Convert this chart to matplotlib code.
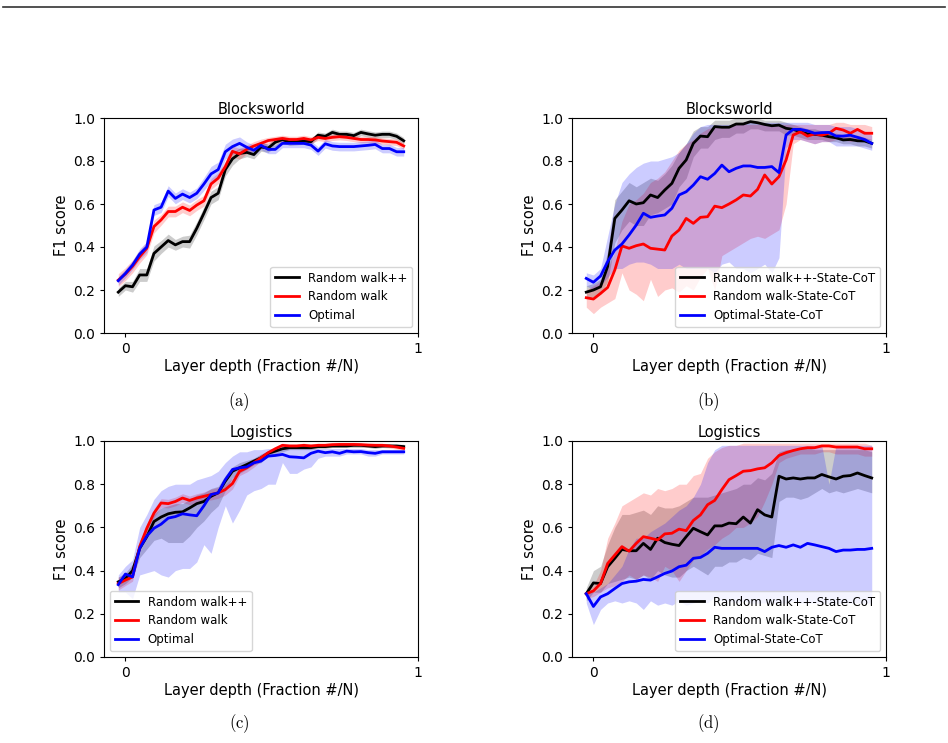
import numpy as np
import matplotlib
matplotlib.use("Agg")
import matplotlib.pyplot as plt
from matplotlib.lines import Line2D

plt.rcParams["mathtext.fontset"] = "cm"

# x positions: layer index, 41 layers
layers = np.arange(41)
xtick_pos = [1, 42]
xtick_labels = ["0", "1"]

# ---------------- (a) Blocksworld ----------------
a_rwpp = [0.19, 0.22, 0.215, 0.27, 0.27, 0.37, 0.40, 0.43, 0.41, 0.425, 0.425, 0.487, 0.557, 0.63, 0.65, 0.76,
          0.81, 0.835, 0.84, 0.83, 0.865, 0.86, 0.887, 0.90, 0.887, 0.89, 0.893, 0.89, 0.92, 0.915, 0.933,
          0.924, 0.924, 0.918, 0.933, 0.926, 0.92, 0.924, 0.924, 0.915, 0.894]
a_rwpp_err = [0.02, 0.02, 0.025, 0.03, 0.03, 0.035, 0.03, 0.03, 0.025, 0.025, 0.03, 0.03, 0.03, 0.03, 0.03, 0.03,
              0.03, 0.025, 0.02, 0.02, 0.02, 0.02, 0.02, 0.015, 0.015, 0.015, 0.015, 0.015, 0.015, 0.015, 0.015,
              0.015, 0.015, 0.015, 0.015, 0.015, 0.015, 0.015, 0.015, 0.015, 0.015]
a_rw = [0.246, 0.274, 0.31, 0.355, 0.394, 0.495, 0.526, 0.565, 0.565, 0.585, 0.57, 0.595, 0.615, 0.693, 0.72,
        0.774, 0.845, 0.833, 0.854, 0.87, 0.882, 0.895, 0.90, 0.905, 0.90, 0.90, 0.905, 0.898, 0.91, 0.905, 0.91,
        0.913, 0.91, 0.905, 0.90, 0.90, 0.898, 0.893, 0.89, 0.887, 0.87]
a_rw_err = [0.03, 0.03, 0.03, 0.03, 0.03, 0.03, 0.025, 0.025, 0.025, 0.025, 0.025, 0.025, 0.025, 0.025, 0.025,
            0.025, 0.025, 0.025, 0.02, 0.02, 0.02, 0.015, 0.015, 0.015, 0.015, 0.015, 0.015, 0.015, 0.015, 0.015,
            0.015, 0.015, 0.015, 0.015, 0.015, 0.015, 0.015, 0.015, 0.015, 0.015, 0.015]
a_opt = [0.243, 0.277, 0.316, 0.367, 0.40, 0.572, 0.585, 0.66, 0.626, 0.646, 0.63, 0.65, 0.693, 0.74, 0.76, 0.843,
         0.867, 0.882, 0.864, 0.85, 0.873, 0.854, 0.854, 0.882, 0.882, 0.882, 0.882, 0.874, 0.846, 0.88, 0.87,
         0.867, 0.867, 0.867, 0.87, 0.873, 0.877, 0.858, 0.858, 0.843, 0.843]
a_opt_err = [0.02, 0.02, 0.02, 0.025, 0.025, 0.025, 0.025, 0.025, 0.025, 0.025, 0.025, 0.025, 0.03, 0.035, 0.035,
             0.035, 0.035, 0.03, 0.025, 0.025, 0.02, 0.02, 0.02, 0.02, 0.02, 0.02, 0.02, 0.02, 0.02, 0.02, 0.02,
             0.02, 0.02, 0.02, 0.02, 0.02, 0.02, 0.02, 0.02, 0.02, 0.02]

# ---------------- (b) Blocksworld, State-CoT ----------------
b_rwpp = [0.19, 0.20, 0.215, 0.31, 0.533, 0.572, 0.615, 0.60, 0.606, 0.642, 0.63, 0.665, 0.696, 0.766, 0.805,
          0.882, 0.916, 0.913, 0.96, 0.957, 0.957, 0.972, 0.972, 0.983, 0.978, 0.97, 0.964, 0.967, 0.952, 0.947,
          0.936, 0.926, 0.924, 0.92, 0.913, 0.908, 0.898, 0.90, 0.894, 0.893, 0.882]
b_rwpp_lo = [0.16, 0.17, 0.18, 0.24, 0.42, 0.48, 0.52, 0.50, 0.50, 0.55, 0.56, 0.58, 0.60, 0.68, 0.72, 0.82, 0.86,
             0.86, 0.90, 0.91, 0.91, 0.93, 0.93, 0.95, 0.95, 0.94, 0.94, 0.94, 0.92, 0.92, 0.91, 0.90, 0.90, 0.90,
             0.89, 0.89, 0.88, 0.88, 0.87, 0.87, 0.86]
b_rwpp_hi = [0.22, 0.23, 0.25, 0.38, 0.62, 0.66, 0.70, 0.68, 0.70, 0.72, 0.71, 0.74, 0.78, 0.84, 0.88, 0.94, 0.96,
             0.96, 0.99, 0.99, 0.99, 1.0, 1.0, 1.0, 1.0, 0.99, 0.99, 0.99, 0.98, 0.97, 0.96, 0.95, 0.95, 0.94,
             0.93, 0.93, 0.92, 0.92, 0.92, 0.91, 0.90]
b_rw = [0.164, 0.158, 0.184, 0.212, 0.293, 0.405, 0.394, 0.406, 0.414, 0.394, 0.39, 0.386, 0.451, 0.479, 0.533,
        0.51, 0.538, 0.541, 0.59, 0.583, 0.60, 0.619, 0.642, 0.637, 0.668, 0.735, 0.693, 0.727, 0.805, 0.921,
        0.936, 0.916, 0.926, 0.92, 0.929, 0.952, 0.944, 0.929, 0.947, 0.929, 0.929]
b_rw_lo = [0.12, 0.09, 0.12, 0.14, 0.16, 0.28, 0.20, 0.18, 0.15, 0.25, 0.17, 0.20, 0.21, 0.19, 0.22, 0.20, 0.26,
           0.30, 0.20, 0.36, 0.38, 0.40, 0.42, 0.44, 0.45, 0.44, 0.46, 0.48, 0.60, 0.88, 0.90, 0.89, 0.88, 0.89,
           0.89, 0.90, 0.90, 0.89, 0.90, 0.90, 0.90]
b_rw_hi = [0.20, 0.22, 0.24, 0.30, 0.38, 0.52, 0.60, 0.62, 0.65, 0.70, 0.72, 0.75, 0.80, 0.85, 0.88, 0.90, 0.93,
           0.95, 0.96, 0.96, 0.96, 0.97, 0.97, 0.97, 0.97, 0.97, 0.97, 0.97, 0.97, 0.97, 0.97, 0.97, 0.97, 0.97,
           0.97, 0.98, 0.98, 0.97, 0.97, 0.97, 0.96]
b_opt = [0.254, 0.236, 0.265, 0.332, 0.386, 0.414, 0.456, 0.502, 0.557, 0.538, 0.544, 0.549, 0.58, 0.642, 0.657,
         0.688, 0.727, 0.715, 0.742, 0.781, 0.75, 0.766, 0.777, 0.777, 0.77, 0.77, 0.774, 0.746, 0.921, 0.947,
         0.947, 0.94, 0.929, 0.932, 0.933, 0.916, 0.916, 0.92, 0.91, 0.90, 0.882]
b_opt_lo = [0.22, 0.20, 0.22, 0.26, 0.30, 0.30, 0.32, 0.33, 0.33, 0.32, 0.30, 0.30, 0.30, 0.32, 0.30, 0.30, 0.30,
            0.30, 0.28, 0.32, 0.33, 0.30, 0.30, 0.28, 0.30, 0.32, 0.28, 0.35, 0.86, 0.90, 0.90, 0.89, 0.88, 0.89,
            0.89, 0.87, 0.87, 0.87, 0.87, 0.86, 0.85]
b_opt_hi = [0.28, 0.27, 0.30, 0.45, 0.60, 0.70, 0.74, 0.77, 0.79, 0.80, 0.80, 0.81, 0.82, 0.84, 0.88, 0.93, 0.96,
            0.97, 0.97, 0.97, 0.97, 0.97, 0.98, 0.98, 0.98, 0.98, 0.98, 0.98, 0.98, 0.98, 0.98, 0.98, 0.97, 0.97,
            0.97, 0.96, 0.96, 0.96, 0.95, 0.94, 0.92]

# ---------------- (c) Logistics ----------------
c_rwpp = [0.348, 0.363, 0.40, 0.503, 0.557, 0.627, 0.648, 0.663, 0.67, 0.672, 0.69, 0.71, 0.72, 0.744, 0.76,
          0.814, 0.86, 0.876, 0.891, 0.907, 0.922, 0.943, 0.953, 0.964, 0.969, 0.969, 0.969, 0.969, 0.974, 0.974,
          0.977, 0.977, 0.977, 0.98, 0.98, 0.977, 0.974, 0.977, 0.977, 0.977, 0.974]
c_rwpp_lo = [0.32, 0.34, 0.37, 0.46, 0.50, 0.54, 0.55, 0.53, 0.53, 0.53, 0.56, 0.60, 0.63, 0.67, 0.70, 0.77, 0.83,
             0.85, 0.87, 0.89, 0.90, 0.93, 0.94, 0.95, 0.96, 0.96, 0.96, 0.96, 0.965, 0.965, 0.97, 0.97, 0.97, 0.97,
             0.97, 0.97, 0.965, 0.97, 0.97, 0.97, 0.965]
c_rwpp_hi = [0.37, 0.39, 0.43, 0.54, 0.60, 0.66, 0.69, 0.70, 0.71, 0.71, 0.73, 0.75, 0.76, 0.78, 0.79, 0.84, 0.88,
             0.90, 0.91, 0.92, 0.94, 0.955, 0.965, 0.975, 0.98, 0.98, 0.98, 0.98, 0.985, 0.985, 0.985, 0.985, 0.985,
             0.99, 0.99, 0.985, 0.985, 0.985, 0.985, 0.985, 0.985]
c_rw = [0.34, 0.356, 0.371, 0.511, 0.596, 0.666, 0.713, 0.71, 0.72, 0.736, 0.725, 0.736, 0.744, 0.752, 0.76, 0.775,
        0.803, 0.86, 0.876, 0.899, 0.922, 0.946, 0.964, 0.98, 0.977, 0.977, 0.98, 0.977, 0.98, 0.98, 0.983, 0.984,
        0.984, 0.984, 0.983, 0.981, 0.98, 0.98, 0.977, 0.972, 0.966]
c_rw_err = [0.03, 0.025, 0.02, 0.02, 0.02, 0.02, 0.02, 0.02, 0.02, 0.02, 0.02, 0.02, 0.02, 0.025, 0.025, 0.025,
            0.025, 0.02, 0.02, 0.02, 0.015, 0.01, 0.01, 0.01, 0.01, 0.01, 0.01, 0.01, 0.01, 0.01, 0.01, 0.01, 0.01,
            0.01, 0.01, 0.01, 0.01, 0.01, 0.01, 0.01, 0.01]
c_opt = [0.335, 0.384, 0.371, 0.503, 0.56, 0.596, 0.615, 0.643, 0.65, 0.663, 0.658, 0.654, 0.70, 0.752, 0.76,
         0.821, 0.868, 0.876, 0.88, 0.899, 0.907, 0.93, 0.933, 0.938, 0.927, 0.925, 0.922, 0.943, 0.953, 0.946,
         0.95, 0.943, 0.953, 0.95, 0.951, 0.946, 0.943, 0.95, 0.95, 0.95, 0.95]
c_opt_lo = [0.30, 0.30, 0.27, 0.38, 0.39, 0.40, 0.38, 0.37, 0.40, 0.41, 0.41, 0.44, 0.52, 0.48, 0.60, 0.70, 0.62,
            0.68, 0.75, 0.77, 0.78, 0.80, 0.80, 0.90, 0.85, 0.85, 0.87, 0.88, 0.92, 0.93, 0.93, 0.93, 0.94, 0.94,
            0.94, 0.93, 0.93, 0.94, 0.94, 0.94, 0.94]
c_opt_hi = [0.38, 0.42, 0.45, 0.60, 0.66, 0.73, 0.77, 0.79, 0.80, 0.80, 0.80, 0.82, 0.83, 0.84, 0.86, 0.90, 0.93,
            0.95, 0.95, 0.96, 0.96, 0.965, 0.965, 0.965, 0.965, 0.965, 0.965, 0.965, 0.965, 0.965, 0.965, 0.965,
            0.965, 0.965, 0.965, 0.96, 0.96, 0.96, 0.96, 0.96, 0.96]

# ---------------- (d) Logistics, State-CoT ----------------
d_rwpp = [0.293, 0.343, 0.34, 0.418, 0.457, 0.498, 0.492, 0.492, 0.526, 0.498, 0.55, 0.53, 0.522, 0.516, 0.557,
          0.596, 0.58, 0.565, 0.607, 0.607, 0.62, 0.617, 0.648, 0.62, 0.682, 0.658, 0.648, 0.837, 0.824, 0.829,
          0.824, 0.829, 0.829, 0.845, 0.834, 0.824, 0.837, 0.84, 0.852, 0.84, 0.829]
d_rwpp_lo = [0.26, 0.30, 0.30, 0.34, 0.35, 0.36, 0.37, 0.36, 0.38, 0.36, 0.40, 0.38, 0.37, 0.37, 0.40, 0.42, 0.40,
             0.38, 0.42, 0.42, 0.44, 0.44, 0.46, 0.45, 0.48, 0.47, 0.46, 0.72, 0.74, 0.74, 0.73, 0.74, 0.76, 0.78,
             0.76, 0.77, 0.76, 0.77, 0.78, 0.77, 0.76]
d_rwpp_hi = [0.32, 0.40, 0.42, 0.52, 0.60, 0.66, 0.66, 0.67, 0.68, 0.66, 0.70, 0.69, 0.69, 0.70, 0.72, 0.74, 0.74,
             0.74, 0.75, 0.76, 0.77, 0.78, 0.80, 0.80, 0.83, 0.82, 0.85, 0.95, 0.96, 0.96, 0.96, 0.97, 0.96, 0.96,
             0.96, 0.96, 0.96, 0.96, 0.96, 0.96, 0.95]
d_rw = [0.293, 0.306, 0.34, 0.433, 0.472, 0.511, 0.49, 0.526, 0.557, 0.55, 0.542, 0.57, 0.573, 0.592, 0.585,
        0.632, 0.658, 0.705, 0.725, 0.775, 0.821, 0.84, 0.86, 0.863, 0.871, 0.876, 0.899, 0.933, 0.946, 0.956,
        0.964, 0.969, 0.969, 0.977, 0.977, 0.972, 0.972, 0.972, 0.972, 0.964, 0.964]
d_rw_lo = [0.27, 0.28, 0.30, 0.32, 0.33, 0.35, 0.38, 0.36, 0.38, 0.37, 0.35, 0.42, 0.40, 0.35, 0.40, 0.45, 0.47,
           0.50, 0.52, 0.55, 0.57, 0.60, 0.60, 0.62, 0.65, 0.72, 0.80, 0.90, 0.92, 0.93, 0.94, 0.94, 0.94, 0.95,
           0.95, 0.94, 0.94, 0.94, 0.94, 0.93, 0.93]
d_rw_hi = [0.31, 0.33, 0.40, 0.55, 0.62, 0.70, 0.72, 0.74, 0.76, 0.75, 0.78, 0.77, 0.78, 0.80, 0.80, 0.84, 0.85,
           0.92, 0.95, 0.97, 0.98, 0.98, 0.99, 0.99, 0.99, 0.99, 0.99, 0.99, 0.99, 0.99, 0.99, 0.99, 0.99, 0.99,
           0.99, 0.99, 0.99, 0.99, 0.99, 0.99, 0.98]
d_opt = [0.293, 0.234, 0.278, 0.293, 0.317, 0.34, 0.348, 0.351, 0.359, 0.356, 0.371, 0.387, 0.398, 0.418, 0.425,
         0.457, 0.461, 0.48, 0.508, 0.503, 0.503, 0.503, 0.503, 0.503, 0.503, 0.488, 0.508, 0.516, 0.508, 0.519,
         0.508, 0.526, 0.519, 0.511, 0.503, 0.488, 0.495, 0.495, 0.498, 0.498, 0.503]
d_opt_lo = [0.25, 0.15, 0.22, 0.25, 0.26, 0.25, 0.26, 0.25, 0.22, 0.26, 0.24, 0.25, 0.24, 0.26, 0.24, 0.25, 0.26,
            0.25, 0.28, 0.26, 0.26, 0.25, 0.26, 0.25, 0.25, 0.25, 0.25, 0.25, 0.25, 0.26, 0.25, 0.25, 0.25, 0.25,
            0.25, 0.25, 0.25, 0.25, 0.25, 0.25, 0.25]
d_opt_hi = [0.31, 0.30, 0.32, 0.34, 0.38, 0.42, 0.50, 0.55, 0.55, 0.58, 0.60, 0.62, 0.65, 0.68, 0.70, 0.74, 0.80,
            0.90, 0.96, 0.98, 0.98, 0.98, 0.98, 0.98, 0.98, 0.98, 0.98, 0.98, 0.98, 0.98, 0.98, 0.98, 0.98, 0.98,
            0.80, 0.98, 0.98, 0.98, 0.98, 0.98, 0.98]

labels_plain = ["Random walk++", "Random walk", "Optimal"]
labels_cot = ["Random walk++-State-CoT", "Random walk-State-CoT", "Optimal-State-CoT"]
colors = ["black", "red", "blue"]


def band(mean, err):
    m = np.array(mean)
    e = np.array(err)
    return m - e, m + e


panels = [
    ("Blocksworld", labels_plain, "lower right",
     [(a_rwpp, *band(a_rwpp, a_rwpp_err)), (a_rw, *band(a_rw, a_rw_err)), (a_opt, *band(a_opt, a_opt_err))]),
    ("Blocksworld", labels_cot, "lower right",
     [(b_rwpp, b_rwpp_lo, b_rwpp_hi), (b_rw, b_rw_lo, b_rw_hi), (b_opt, b_opt_lo, b_opt_hi)]),
    ("Logistics", labels_plain, "lower left",
     [(c_rwpp, c_rwpp_lo, c_rwpp_hi), (c_rw, *band(c_rw, c_rw_err)), (c_opt, c_opt_lo, c_opt_hi)]),
    ("Logistics", labels_cot, "lower right",
     [(d_rwpp, d_rwpp_lo, d_rwpp_hi), (d_rw, d_rw_lo, d_rw_hi), (d_opt, d_opt_lo, d_opt_hi)]),
]

W, H = 948, 743
fig = plt.figure(figsize=(W / 100, H / 100), dpi=100)

# axes boxes in pixels: left, top, right, bottom
boxes = [(104, 118, 418, 333), (572, 118, 886, 333), (104, 441, 418, 657), (572, 441, 886, 657)]
captions = ["(a)", "(b)", "(c)", "(d)"]
caption_xy = [(239, 402), (708, 402), (239, 724), (708, 724)]

for (title, labels, loc, series), (l, t, r, b), cap, (cx, cy) in zip(panels, boxes, captions, caption_xy):
    ax = fig.add_axes([l / W, 1 - b / H, (r - l) / W, (b - t) / H])
    for (mean, lo, hi), lab, col in zip(series, labels, colors):
        ax.fill_between(layers, lo, hi, color=col, alpha=0.2, linewidth=0)
        ax.plot(layers, mean, color=col, lw=2, label=lab)
    ax.set_ylim(0, 1)
    ax.set_yticks([0.0, 0.2, 0.4, 0.6, 0.8, 1.0])
    ax.set_xticks(xtick_pos)
    ax.set_xticklabels(xtick_labels)
    ax.tick_params(labelsize=10, length=3)
    ax.set_title(title, fontsize=10.5, pad=3)
    ax.set_xlabel("Layer depth (Fraction #/N)", fontsize=10.5, labelpad=2)
    ax.set_ylabel("F1 score", fontsize=10.5, labelpad=3)
    ax.legend(loc=loc, fontsize=8.5)
    fig.text(cx / W, 1 - cy / H, r"$\mathrm{" + cap + "}$", ha="center", va="center", fontsize=12)

# rule at the top of the page
fig.add_artist(Line2D([3 / W, 945 / W], [1 - 7 / H, 1 - 7 / H], color="#333333", lw=1.2))

fig.savefig("out.png", dpi=100)
